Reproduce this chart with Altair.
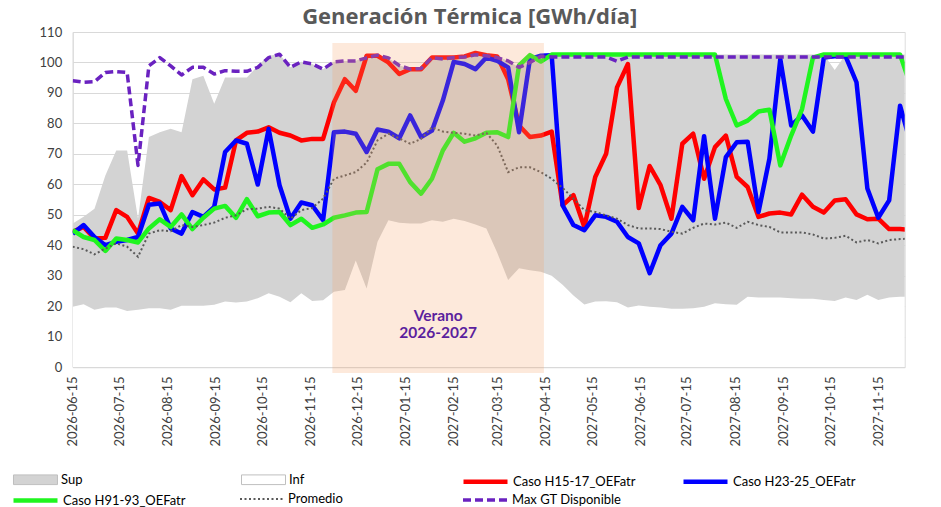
import altair as alt
import pandas as pd

# Weekly dates (78 weeks starting 2026-06-15)
fechas = pd.date_range("2026-06-15", periods=78, freq="7D").strftime("%Y-%m-%d").tolist()

sup = [47.1, 49.3, 52.0, 62.9, 71.1, 71.1, 48.7, 75.5, 77.1, 78.2,
       77.1, 94.5, 95.6, 86.4, 95.1, 95.1, 95.1, 98.9, 102.2, 102.7,
       98.4, 100.2, 99.5, 97.8, 100.2, 100.5, 100.5, 102.2, 102.4, 101.5,
       99.0, 98.0, 98.0, 101.6, 101.6, 101.8, 102.0, 103.1, 102.7, 102.0,
       100.5, 98.4, 101.1, 102.2, 102.6, 102.6, 102.6, 102.6, 102.6, 102.6,
       102.6, 102.6, 102.6, 102.6, 102.6, 102.6, 102.6, 102.6, 102.6, 102.6,
       102.6, 102.6, 102.6, 102.6, 102.6, 102.6, 102.6, 102.6, 102.6, 102.6,
       97.5, 102.6, 102.6, 102.6, 102.6, 102.6, 102.6, 102.6]

inf = [19.8, 20.6, 18.8, 19.5, 19.5, 18.4, 18.8, 19.3, 19.3, 18.8,
       20.1, 20.1, 20.1, 20.4, 21.5, 21.2, 21.5, 22.6, 24.2, 23.1,
       21.3, 24.2, 21.7, 21.9, 24.7, 25.3, 35.0, 25.8, 41.1, 48.2,
       47.4, 47.1, 47.1, 48.2, 47.7, 48.7, 47.9, 46.8, 45.5, 37.5,
       28.6, 32.4, 31.8, 31.3, 30.0, 27.0, 23.5, 20.5, 21.5, 21.6,
       21.3, 19.5, 20.2, 19.8, 19.5, 19.1, 19.1, 19.3, 19.8, 20.9,
       20.6, 20.4, 23.1, 22.8, 22.8, 22.8, 22.6, 22.4, 22.4, 22.0,
       21.7, 22.8, 22.0, 23.7, 22.0, 22.8, 23.1, 23.1]

caso_h15 = [44.4, 46.0, 42.2, 42.4, 51.5, 49.3, 43.8, 55.5, 54.2, 51.5,
            62.7, 56.4, 61.6, 58.3, 58.9, 74.4, 76.9, 77.3, 78.7, 76.9,
            76.0, 74.4, 74.9, 74.9, 86.9, 94.5, 90.7, 102.2, 102.2, 100.0,
            96.2, 97.8, 97.8, 101.6, 101.6, 101.6, 102.0, 103.1, 102.4, 102.0,
            94.5, 79.3, 75.5, 76.0, 77.3, 53.1, 56.4, 46.0, 62.4, 70.0,
            91.8, 99.5, 52.2, 66.0, 59.7, 48.7, 73.3, 76.6, 61.8, 72.2,
            76.0, 62.4, 59.1, 49.3, 50.4, 50.7, 50.1, 56.6, 52.6, 50.7,
            54.7, 55.1, 50.1, 48.5, 48.7, 45.3, 45.3, 44.9]

caso_h23 = [43.8, 46.6, 42.7, 40.0, 41.1, 41.7, 42.7, 53.3, 53.7, 45.5,
            43.8, 50.9, 49.3, 52.6, 70.6, 74.4, 73.3, 59.9, 78.2, 59.7,
            48.7, 54.0, 53.1, 48.2, 77.1, 77.3, 76.6, 70.6, 78.0, 77.3,
            75.1, 82.6, 75.5, 77.6, 87.5, 100.2, 99.5, 97.8, 101.6, 100.5,
            98.4, 77.1, 101.1, 102.2, 102.4, 53.1, 46.6, 44.9, 49.8, 49.3,
            47.7, 42.7, 40.6, 30.8, 40.0, 43.8, 52.6, 48.2, 75.8, 48.7,
            68.9, 73.8, 74.0, 50.9, 68.4, 101.1, 79.3, 82.6, 77.3, 101.6,
            102.0, 102.0, 93.5, 58.6, 49.0, 54.7, 85.8, 73.0]

caso_h91 = [44.9, 42.7, 41.7, 38.1, 42.2, 41.7, 40.9, 45.5, 48.5, 46.0,
            50.1, 45.3, 49.0, 52.0, 52.9, 49.0, 55.1, 49.5, 50.7, 50.9,
            46.6, 48.7, 45.7, 46.8, 49.0, 49.8, 50.7, 50.9, 64.9, 66.7,
            66.7, 60.7, 56.9, 61.8, 71.1, 76.9, 74.0, 75.1, 76.9, 77.1,
            75.5, 99.0, 102.4, 100.3, 102.6, 102.6, 102.6, 102.6, 102.6, 102.6,
            102.6, 102.6, 102.6, 102.6, 102.6, 102.6, 102.6, 102.6, 102.6, 102.6,
            88.0, 79.3, 80.9, 83.9, 84.5, 66.2, 76.0, 84.7, 101.6, 102.6,
            102.6, 102.6, 102.6, 102.6, 102.6, 102.6, 102.6, 92.0]

promedio = [39.5, 38.7, 37.0, 38.9, 40.6, 39.5, 36.2, 43.8, 44.9, 44.6,
            46.6, 46.0, 46.6, 47.4, 49.0, 49.8, 51.8, 52.0, 52.6, 52.0,
            48.7, 51.5, 52.2, 55.3, 61.8, 62.9, 64.0, 67.1, 74.4, 76.6,
            75.1, 73.3, 74.9, 78.7, 77.3, 76.9, 76.6, 76.0, 76.9, 72.7,
            64.0, 65.6, 65.6, 64.0, 61.8, 58.8, 55.3, 51.5, 50.9, 49.8,
            48.7, 46.6, 45.5, 45.5, 45.3, 44.4, 43.8, 45.7, 47.1, 46.8,
            47.4, 45.7, 47.7, 46.6, 46.0, 44.2, 44.2, 44.2, 43.5, 42.2,
            42.4, 43.1, 40.9, 41.7, 40.6, 41.7, 42.0, 42.2]

max_gt = [94.0, 93.5, 93.7, 96.7, 97.0, 96.7, 66.2, 98.9, 101.6, 98.9,
          95.9, 98.4, 98.4, 96.2, 97.3, 97.1, 97.1, 98.4, 101.6, 102.7,
          98.4, 100.2, 99.5, 97.8, 100.2, 100.5, 100.5, 101.5, 102.4, 101.5,
          99.0, 97.8, 98.0, 101.6, 101.1, 101.6, 101.8, 102.5, 102.2, 101.6,
          100.5, 98.4, 100.0, 102.0, 101.8, 101.8, 101.8, 101.8, 101.8, 101.8,
          100.4, 101.8, 101.8, 101.8, 101.8, 101.8, 101.8, 101.8, 101.8, 101.8,
          101.8, 101.8, 101.8, 101.8, 101.8, 101.8, 101.8, 101.8, 101.8, 101.8,
          101.8, 101.8, 101.8, 101.8, 101.8, 101.8, 101.8, 101.8]

series = {
    "Sup": sup,
    "Inf": inf,
    "Caso H15-17_OEFatr": caso_h15,
    "Caso H23-25_OEFatr": caso_h23,
    "Caso H91-93_OEFatr": caso_h91,
    "Promedio": promedio,
    "Max GT Disponible": max_gt,
}

# Summer season band and its label
verano_inicio = ["2026-11-29"]
verano_fin = ["2027-04-14"]
verano_texto = ["Verano\n2026-2027"]
verano_centro = ["2027-02-05"]

df = pd.DataFrame(
    [{"fecha": f, "serie": s, "valor": v}
     for s, vals in series.items() for f, v in zip(fechas, vals)]
)
banda = pd.DataFrame({"inicio": verano_inicio, "fin": verano_fin})
rotulo = pd.DataFrame({"fecha": verano_centro, "texto": verano_texto})

FONT = "Lato"
W, H = 832, 335
LEFT, TOP = 72.7, 32

ROJO, AZUL, VERDE = "#FF0000", "#0000FF", "#1FF51F"
GRIS_PROM, MORADO = "#595959", "#6A22C0"
DASH_PROM, DASH_MAX = [2, 2.5], [8, 4]

meses = [alt.DateTime(year=y, month=m, date=15, utc=True)
         for y, m in [(2026, m) for m in range(6, 13)] + [(2027, m) for m in range(1, 12)]]

x_scale = alt.Scale(type="utc", nice=False,
                    domain=[alt.DateTime(year=2026, month=6, date=15, utc=True),
                            alt.DateTime(year=2027, month=12, date=2, utc=True)])
x_axis = alt.Axis(values=meses, format="%Y-%m-%d", labelAngle=270, title=None,
                  grid=False, ticks=False, domainColor="#D9D9D9", domainWidth=1.5,
                  labelFont=FONT, labelFontSize=13, labelColor="#404040",
                  labelPadding=9, labelOverlap=False)
y_scale = alt.Scale(domain=[0, 110], nice=False, zero=True)
y_axis = alt.Axis(values=list(range(0, 111, 10)), title=None, ticks=False,
                  domainColor="#D9D9D9", gridColor="#D9D9D9", gridWidth=1,
                  labelFont=FONT, labelFontSize=13, labelColor="#404040",
                  labelPadding=11)

X = alt.X("fecha:T", scale=x_scale, axis=x_axis)
Y = alt.Y("valor:Q", scale=y_scale, axis=y_axis)

SYM_LEN = 44
SYM = SYM_LEN * SYM_LEN
ROW1 = 479 - TOP - SYM_LEN / 2
ROW2 = 498 - TOP - SYM_LEN / 2


def leyenda(x, y, **extra):
    return alt.Legend(title=None, orient="none", legendX=x - LEFT, legendY=y,
                      direction="horizontal", symbolSize=SYM, labelFont=FONT,
                      labelFontSize=13, labelColor="#000000", labelOffset=3,
                      padding=0, **extra)


leg_areas = leyenda(13, ROW1, columns=2, gridAlign="all", columnPadding=156,
                    symbolType="M-1,-0.22H1V0.22H-1Z", symbolStrokeColor="#BFBFBF",
                    symbolStrokeWidth=1)
leg_casos = leyenda(461, ROW1, columns=2, gridAlign="all", columnPadding=38,
                    symbolType="stroke", symbolStrokeWidth=4.5)
leg_h91 = leyenda(11, ROW2, symbolType="stroke", symbolStrokeWidth=4.5)
leg_prom = leyenda(239, ROW2, symbolType="stroke", symbolStrokeWidth=1.8,
                   symbolStrokeColor=GRIS_PROM)
leg_max = leyenda(461, ROW2, symbolType="stroke", symbolStrokeColor=MORADO,
                  symbolDash=DASH_MAX)

base = alt.Chart(df)


def serie(nombre):
    return base.transform_filter(alt.datum.serie == nombre)


fill_enc = alt.Fill("serie:N", scale=alt.Scale(domain=["Sup", "Inf"],
                                               range=["#D3D3D3", "#FFFFFF"]),
                    legend=leg_areas)

area_sup = serie("Sup").mark_area(clip=True).encode(x=X, y=Y, fill=fill_enc)
area_inf = serie("Inf").mark_area(clip=True).encode(x=X, y=Y, fill=fill_enc)

casos_dom = ["Caso H15-17_OEFatr", "Caso H23-25_OEFatr"]
lineas_casos = base.transform_filter(
    alt.FieldOneOfPredicate(field="serie", oneOf=casos_dom)
).mark_line(clip=True, strokeWidth=4.5, strokeJoin="round").encode(
    x=X, y=Y,
    color=alt.Color("serie:N", scale=alt.Scale(domain=casos_dom, range=[ROJO, AZUL]),
                    legend=leg_casos),
)

linea_h91 = serie("Caso H91-93_OEFatr").mark_line(
    clip=True, strokeWidth=4.5, strokeJoin="round").encode(
    x=X, y=Y,
    stroke=alt.Stroke("serie:N", scale=alt.Scale(domain=["Caso H91-93_OEFatr"], range=[VERDE]),
                      legend=leg_h91),
)

linea_prom = serie("Promedio").mark_line(
    clip=True, stroke=GRIS_PROM, strokeWidth=2).encode(
    x=X, y=Y,
    strokeDash=alt.StrokeDash("serie:N", scale=alt.Scale(domain=["Promedio"], range=[DASH_PROM]),
                              legend=leg_prom),
)

linea_max = serie("Max GT Disponible").mark_line(
    clip=True, stroke=MORADO, strokeDash=DASH_MAX, strokeJoin="round").encode(
    x=X, y=Y,
    strokeWidth=alt.StrokeWidth("serie:N", scale=alt.Scale(type="ordinal",
                                                           domain=["Max GT Disponible"],
                                                           range=[3.5]),
                                legend=leg_max),
)

rect_verano = alt.Chart(banda).mark_rect(color="#F69E65", opacity=0.23).encode(
    x=alt.X("inicio:T", scale=x_scale, axis=x_axis),
    x2="fin:T",
    y=alt.Y(datum=106.4, scale=y_scale, axis=y_axis),
    y2=alt.Y2(datum=-2),
)

texto_verano = alt.Chart(rotulo).mark_text(
    font=FONT, fontSize=15.5, fontWeight="bold", color="#5B1F9E",
    lineBreak="\n", lineHeight=17, baseline="middle", align="center"
).encode(
    x=alt.X("fecha:T", scale=x_scale, axis=x_axis),
    y=alt.Y(datum=16.8, scale=y_scale, axis=y_axis),
    text="texto:N",
)

chart = alt.layer(
    area_sup, area_inf, lineas_casos, linea_h91, linea_prom, linea_max,
    rect_verano, texto_verano
).properties(
    width=W, height=H,
    autosize=alt.AutoSizeParams(type="none"),
    padding={"left": LEFT, "top": TOP, "right": 941 - LEFT - W, "bottom": 507 - TOP - H},
    title=alt.TitleParams("Generación Térmica [GWh/día]", font="Open Sans", fontSize=22,
                          fontWeight="bold", color="#595959", anchor="middle",
                          dx=-19, offset=-3),
).configure_view(strokeOpacity=0).configure(background="white")

chart.save("out.html", embed_options={"renderer": "svg", "actions": False})
